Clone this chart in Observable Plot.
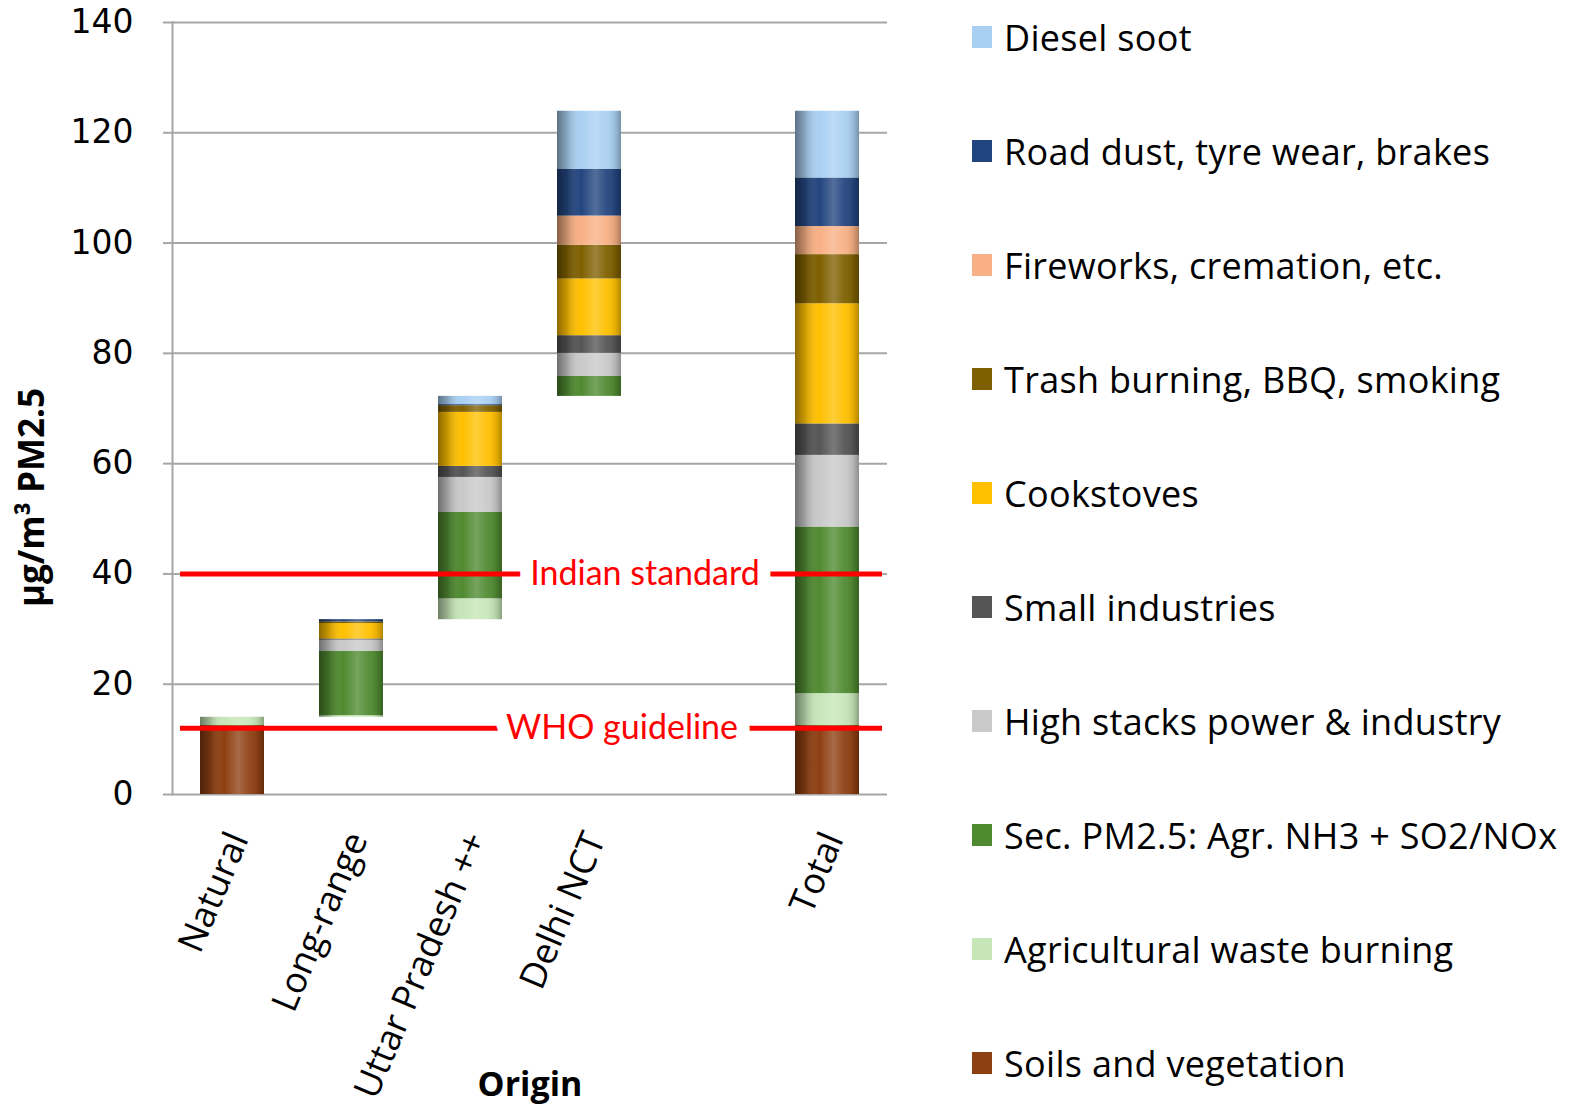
<!DOCTYPE html>
<html><head><meta charset="utf-8">
<script src="https://cdn.jsdelivr.net/npm/d3@7"></script>
<script src="https://cdn.jsdelivr.net/npm/@observablehq/plot@0.6"></script>
<style>
html,body{margin:0;padding:0;background:#fff;}
#wrap{position:relative;width:1575px;height:1112px;overflow:hidden;background:#fff;}
#chart{position:absolute;left:0;top:0;}
#legend{position:absolute;left:972px;top:0;font-family:"Open Sans",Lato,sans-serif;font-size:36px;letter-spacing:0.3px;color:#000;}
.item{position:absolute;left:0;height:40px;display:flex;align-items:center;white-space:nowrap;}
.sw{width:20px;height:22px;margin-right:12px;flex:none;}
</style>
</head><body>
<div id="wrap"><div id="chart"></div><div id="legend"></div></div>
<script>
// ---- data ----
const slots = ["Natural", "Long-range", "Uttar Pradesh ++", "Delhi NCT", " ", "Total"];
const origins = ["Natural", "Long-range", "Uttar Pradesh ++", "Delhi NCT", "Total"];
const waterfall = [true, true, true, true, false]; // Total starts from zero
const sources = [
  "Soils and vegetation",
  "Agricultural waste burning",
  "Sec. PM2.5: Agr. NH3 + SO2/NOx",
  "High stacks power & industry",
  "Small industries",
  "Cookstoves",
  "Trash burning, BBQ, smoking",
  "Fireworks, cremation, etc.",
  "Road dust, tyre wear, brakes",
  "Diesel soot"
];
const colors = ["#8e3f12", "#c6e6b8", "#4f8a30", "#c9c9c9", "#555555", "#ffc000", "#7f6000", "#f8b084", "#23457f", "#a9d0f2"];
// values per origin: Natural, Long-range, Uttar Pradesh ++, Delhi NCT, Total
const soils      = [12.5, 0,    0,    0,    12.5];
const agWaste    = [1.5,  0.3,  3.8,  0,    5.8];
const secPM      = [0,    11.7, 15.7, 3.6,  30.2];
const highStacks = [0,    2.0,  6.3,  4.2,  13.0];
const smallInd   = [0,    0.2,  2.0,  3.2,  5.7];
const cookstoves = [0,    2.8,  9.8,  10.3, 21.8];
const trash      = [0,    0.3,  1.2,  6.1,  8.9];
const fireworks  = [0,    0,    0,    5.3,  5.1];
const roadDust   = [0,    0.4,  0.2,  8.5,  8.8];
const diesel     = [0,    0,    1.5,  10.5, 12.1];
const yTicks = [0, 20, 40, 60, 80, 100, 120, 140];
const standardNames = ["Indian standard", "WHO guideline"];
const standardValues = [40, 12];

// ---- build tables ----
const series = [soils, agWaste, secPM, highStacks, smallInd, cookstoves, trash, fireworks, roadDust, diesel];
const rows = [], bars = [];
let running = 0;
origins.forEach((o, i) => {
  const base = waterfall[i] ? running : 0;
  let y = base;
  series.forEach((vals, k) => {
    const v = vals[i];
    if (v > 0) rows.push({origin: o, source: sources[k], y1: y, y2: y + v});
    y += v;
  });
  if (waterfall[i]) running = y;
  bars.push({origin: o, y1: base, y2: y});
});
const standards = standardNames.map((n, i) => ({name: n, value: standardValues[i]}));

const plot = Plot.plot({
  width: 900, height: 1112,
  marginLeft: 172, marginRight: 13, marginTop: 22, marginBottom: 318,
  style: {fontFamily: "'Open Sans', Lato, sans-serif", background: "white", color: "black"},
  x: {domain: slots, paddingInner: 0.46, paddingOuter: 0.23, axis: null},
  y: {domain: [0, 140], axis: null},
  color: {domain: sources, range: colors},
  marks: [
    Plot.ruleY(yTicks, {stroke: "#a6a6a6", strokeWidth: 2}),
    Plot.frame({anchor: "left", stroke: "#a6a6a6", strokeWidth: 2}),
    Plot.axisY({ticks: yTicks, tickSize: 9, tickPadding: 30, stroke: "#a6a6a6", strokeWidth: 2, fill: "black",
      fontSize: 33, fontFamily: "DejaVu Sans", label: null}),
    Plot.axisX({ticks: origins, tickSize: 0, tickRotate: -67, tickPadding: 40, dx: 6, fontSize: 36, fill: "black", label: null}),
    Plot.barY(rows, {x: "origin", y1: "y1", y2: "y2", fill: "source"}),
    Plot.barY(bars, {x: "origin", y1: "y1", y2: "y2", fill: "url(#cyl)"}),
    Plot.ruleY(standards, {y: "value", stroke: "#ff0000", strokeWidth: 5, insetLeft: 8, insetRight: 5}),
    Plot.text(standards.filter(d => d.value === 40), {y: "value", text: "name", frameAnchor: "middle", dx: 115,
      fill: "#ff0000", fontSize: 34, fontFamily: "Lato, sans-serif", stroke: "white", strokeWidth: 26, paintOrder: "stroke", strokeLinejoin: "round"}),
    Plot.text(standards.filter(d => d.value === 12), {y: "value", text: "name", frameAnchor: "middle", dx: 92,
      fill: "#ff0000", fontSize: 34, fontFamily: "Lato, sans-serif", stroke: "white", strokeWidth: 26, paintOrder: "stroke", strokeLinejoin: "round"}),
    Plot.text(["µg/m³ PM2.5"], {frameAnchor: "left", rotate: -90, dx: -140, dy: 89, textAnchor: "middle",
      lineAnchor: "middle", fontSize: 35, fontWeight: "bold"}),
    Plot.text(["Origin"], {frameAnchor: "bottom", dy: 291, textAnchor: "middle", lineAnchor: "middle",
      fontSize: 34, fontWeight: "bold"})
  ]
});

const ns = "http://www.w3.org/2000/svg";
const defs = document.createElementNS(ns, "defs");
defs.innerHTML = `<linearGradient id="cyl" x1="0" x2="1" y1="0" y2="0">
  <stop offset="0" stop-color="#000" stop-opacity="0.45"/>
  <stop offset="0.15" stop-color="#000" stop-opacity="0.22"/>
  <stop offset="0.38" stop-color="#fff" stop-opacity="0"/>
  <stop offset="0.6" stop-color="#fff" stop-opacity="0.22"/>
  <stop offset="0.78" stop-color="#fff" stop-opacity="0.05"/>
  <stop offset="0.92" stop-color="#000" stop-opacity="0.12"/>
  <stop offset="1" stop-color="#000" stop-opacity="0.3"/>
</linearGradient>`;
plot.insertBefore(defs, plot.firstChild);
document.getElementById("chart").appendChild(plot);

// legend (top to bottom: reversed stacking order)
const legend = document.getElementById("legend");
const centers = [37, 151, 265, 379, 493, 607, 721, 835, 949, 1063];
sources.slice().reverse().forEach((s, i) => {
  const item = document.createElement("div");
  item.className = "item";
  item.style.top = (centers[i] - 20) + "px";
  const sw = document.createElement("div");
  sw.className = "sw";
  sw.style.background = colors[sources.indexOf(s)];
  const t = document.createElement("span");
  t.textContent = s;
  item.appendChild(sw); item.appendChild(t);
  legend.appendChild(item);
});
</script>
</body></html>
